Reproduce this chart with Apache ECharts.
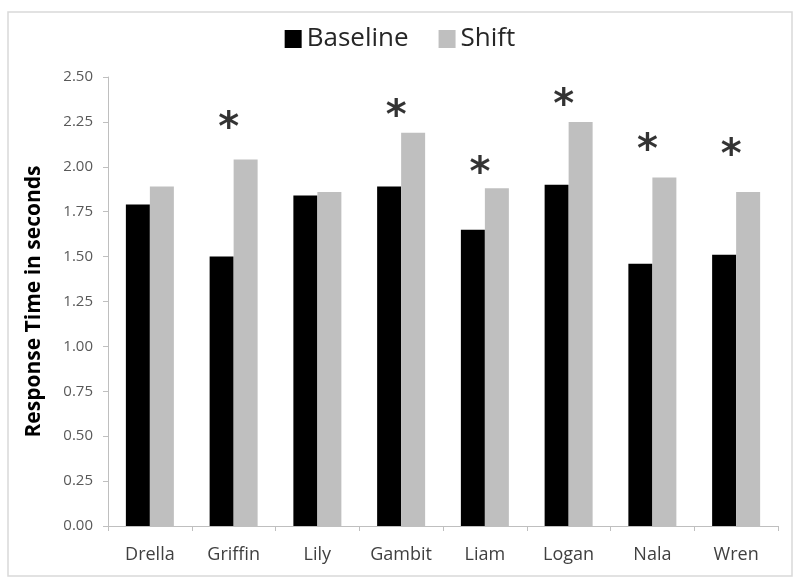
<!DOCTYPE html>
<html>
<head>
<meta charset="utf-8">
<script src="https://cdn.jsdelivr.net/npm/echarts@6/dist/echarts.min.js"></script>
<style>
  html, body { margin: 0; padding: 0; background: #fff; }
  #main { width: 800px; height: 584px; }
</style>
</head>
<body>
<div id="main"></div>
<script>
// 各个体的反应时间
var names = ['Drella', 'Griffin', 'Lily', 'Gambit', 'Liam', 'Logan', 'Nala', 'Wren']
var baseline = [1.79, 1.50, 1.84, 1.89, 1.65, 1.90, 1.46, 1.51]
var shift = [1.89, 2.04, 1.86, 2.19, 1.88, 2.25, 1.94, 1.86]
// 星号（显著差异）所在的高度
var stars = ['-', 2.25, '-', 2.32, 2.00, 2.38, 2.13, 2.10]

var font = 'Open Sans'
var myChart = echarts.init(document.getElementById('main'))

var option = {
    animation: false,
    graphic: [{
        type: 'rect',
        shape: { x: 8, y: 12, width: 784, height: 564 },
        style: { fill: 'none', stroke: '#d9d9d9', lineWidth: 1.5 },
        silent: true
    }],
    legend: {
        data: ['Baseline', 'Shift'],
        top: 21,
        left: 'center',
        icon: 'rect',
        itemWidth: 17,
        itemHeight: 18,
        itemGap: 30,
        textStyle: { fontFamily: font, fontSize: 26, color: '#262626' }
    },
    grid: { left: 108, right: 22, top: 77, bottom: 58 },
    xAxis: {
        type: 'category',
        data: names,
        axisLine: { lineStyle: { color: '#bfbfbf' } },
        axisTick: { show: true, length: 5, lineStyle: { color: '#bfbfbf' } },
        axisLabel: { fontFamily: font, fontSize: 18, color: '#404040', margin: 20 }
    },
    yAxis: {
        type: 'value',
        min: 0,
        max: 2.5,
        interval: 0.25,
        name: 'Response Time in seconds',
        nameLocation: 'middle',
        nameGap: 63,
        nameTextStyle: { fontFamily: font, fontSize: 21, fontWeight: 'bold', color: '#000' },
        axisLine: { show: true, lineStyle: { color: '#bfbfbf' } },
        axisTick: { show: true, length: 5, lineStyle: { color: '#bfbfbf' } },
        splitLine: { show: false },
        axisLabel: {
            fontFamily: font, fontSize: 15, color: '#595959', margin: 15,
            formatter: function (v) { return v.toFixed(2) }
        }
    },
    series: [
        {
            name: 'Baseline',
            type: 'bar',
            data: baseline,
            barWidth: 24,
            barGap: '0%',
            itemStyle: { color: '#000000' }
        },
        {
            name: 'Shift',
            type: 'bar',
            data: shift,
            barWidth: 24,
            itemStyle: { color: '#bfbfbf' }
        },
        {
            name: 'stars',
            type: 'scatter',
            data: stars,
            symbolSize: 0,
            silent: true,
            label: {
                show: true,
                position: 'inside',
                formatter: '*',
                offset: [-5, 8],
                fontFamily: 'DejaVu Sans',
                fontWeight: 'bold',
                fontSize: 40,
                color: '#000'
            }
        }
    ]
}

myChart.setOption(option)
</script>
</body>
</html>
